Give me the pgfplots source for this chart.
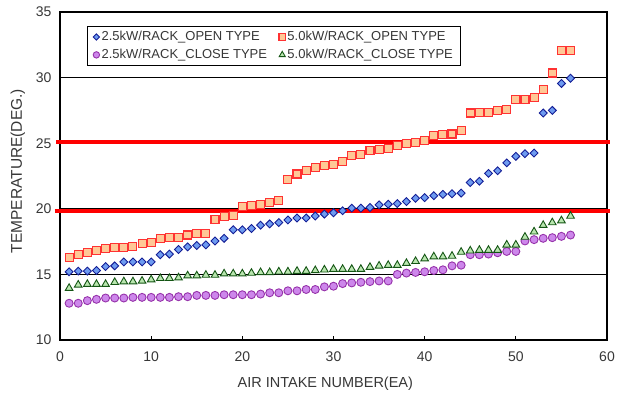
\documentclass[border=0pt]{standalone}
\usepackage{pgfplots}
\pgfplotsset{compat=1.18}
\usepackage{pgfplotstable}
\usepackage{fontspec}
\setmainfont{Liberation Sans}
\usetikzlibrary{calc}

\definecolor{dfill}{RGB}{110,155,240}
\definecolor{ddraw}{RGB}{20,30,150}
\definecolor{sfill}{RGB}{255,200,150}
\definecolor{sdraw}{RGB}{255,50,50}
\definecolor{cfill}{RGB}{205,135,235}
\definecolor{cdraw}{RGB}{150,50,170}
\definecolor{tfill}{RGB}{185,230,175}
\definecolor{tdraw}{RGB}{20,85,20}
\definecolor{txt}{RGB}{55,55,55}

\pgfplotstableread{
n  bo    ro    bc    rc
1  15.2  16.3  12.8  13.95
2  15.25 16.55 12.8  14.2
3  15.25 16.7  13.0  14.25
4  15.3  16.8  13.1  14.25
5  15.6  16.95 13.2  14.25
6  15.65 17.05 13.2  14.4
7  15.95 17.05 13.2  14.45
8  15.95 17.15 13.25 14.45
9  15.95 17.35 13.25 14.5
10 15.95 17.45 13.25 14.6
11 16.5  17.75 13.25 14.7
12 16.55 17.8  13.25 14.7
13 16.9  17.8  13.3  14.75
14 17.1  18.0  13.3  14.9
15 17.2  18.1  13.4  14.9
16 17.25 18.15 13.4  14.95
17 17.55 19.2  13.4  14.95
18 17.75 19.4  13.45 15.05
19 18.4  19.5  13.45 15.05
20 18.4  20.2  13.45 15.05
21 18.5  20.25 13.45 15.1
22 18.75 20.35 13.5  15.15
23 18.85 20.45 13.6  15.15
24 18.95 20.65 13.6  15.2
25 19.15 22.25 13.75 15.2
26 19.3  22.65 13.75 15.25
27 19.3  22.95 13.85 15.25
28 19.45 23.15 13.85 15.3
29 19.6  23.3  14.05 15.35
30 19.7  23.4  14.1  15.4
31 19.85 23.6  14.3  15.4
32 20.05 24.05 14.35 15.4
33 20.05 24.15 14.4  15.4
34 20.1  24.45 14.45 15.55
35 20.3  24.55 14.5  15.65
36 20.35 24.6  14.5  15.7
37 20.4  24.8  15.0  15.7
38 20.55 25.0  15.1  15.85
39 20.8  25.05 15.15 16.0
40 20.85 25.2  15.2  16.2
41 21.0  25.6  15.3  16.35
42 21.1  25.65 15.35 16.35
43 21.15 25.7  15.65 16.4
44 21.2  25.95 15.7  16.7
45 22.0  27.3  16.5  16.8
46 22.1  27.35 16.5  16.85
47 22.7  27.35 16.55 16.85
48 22.9  27.5  16.65 16.85
49 23.5  27.6  16.75 17.25
50 24.0  28.35 16.75 17.25
51 24.2  28.35 17.55 17.85
52 24.25 28.5  17.65 18.25
53 27.3  29.1  17.75 18.75
54 27.5  30.35 17.8  18.95
55 29.55 32.05 17.9  19.1
56 29.95 32.05 18.0  19.45
}\datatable

\begin{document}
\begin{tikzpicture}
\begin{axis}[
  name=ax,
  scale only axis, width=547pt, height=328pt,
  xmin=0, xmax=60, ymin=10, ymax=35,
  xtick={0,10,...,60}, ytick={10,15,...,35},
  ymajorgrids, grid style={black, line width=0.7pt},
  axis line style={line width=1.1pt, black},
  tick align=inside, tick pos=left,
  major tick length=4pt,
  ytick style={draw=none},
  xtick style={black, line width=0.8pt},
  /pgf/number format/assume math mode=true,
  tick label style={font=\fontsize{14}{16}\selectfont, text=txt},
  xticklabel style={yshift=-8pt},
  yticklabel style={xshift=-5pt},
  xlabel={AIR INTAKE NUMBER(EA)},
  ylabel={TEMPERATURE(DEG.)},
  xlabel style={at={(axis description cs:0.485,-0.134)}, anchor=center, font=\fontsize{14.5}{16}\selectfont, text=txt},
  ylabel style={at={(axis description cs:-0.077,0.515)}, anchor=center, font=\fontsize{15.5}{17}\selectfont, text=txt},
  clip=false,
  legend columns=2,
  legend cell align=left,
  legend style={at={(axis description cs:0.049,0.957)}, anchor=north west,
    draw=black, line width=0.8pt, font=\fontsize{13}{15}\selectfont,
    text=txt, inner xsep=6pt, inner ysep=3pt, row sep=3pt,
    /tikz/every even column/.append style={column sep=10pt}},
  legend image code/.code={\draw[#1, line width=0.8pt, every mark/.append style={scale=0.8}] plot coordinates {(4pt,0pt)};},
]
\addplot[red, line width=4pt, forget plot] coordinates {(-0.4,25.1) (60.3,25.1)};
\addplot[red, line width=4pt, forget plot] coordinates {(-0.6,19.82) (60.3,19.82)};

\addplot[only marks, mark=square*, mark size=2.8pt, mark options={rotate=45, fill=dfill, draw=ddraw, line width=0.9pt}] table[x=n, y=bo] {\datatable};
\addlegendentry{2.5kW/RACK\_OPEN TYPE}
\addplot[only marks, mark=square*, mark size=4pt, mark options={fill=sfill, draw=sdraw, line width=1.1pt}] table[x=n, y=ro] {\datatable};
\addlegendentry{5.0kW/RACK\_OPEN TYPE}
\addplot[only marks, mark=*, mark size=4pt, mark options={fill=cfill, draw=cdraw, line width=0.9pt}] table[x=n, y=bc] {\datatable};
\addlegendentry{2.5kW/RACK\_CLOSE TYPE}
\addplot[only marks, mark=triangle*, mark size=4.4pt, mark options={fill=tfill, draw=tdraw, line width=0.9pt}] table[x=n, y=rc] {\datatable};
\addlegendentry{5.0kW/RACK\_CLOSE TYPE}
\end{axis}
\path ($(ax.south west)+(-60pt,-60pt)$) rectangle ($(ax.north east)+(13pt,12pt)$);
\end{tikzpicture}
\end{document}
